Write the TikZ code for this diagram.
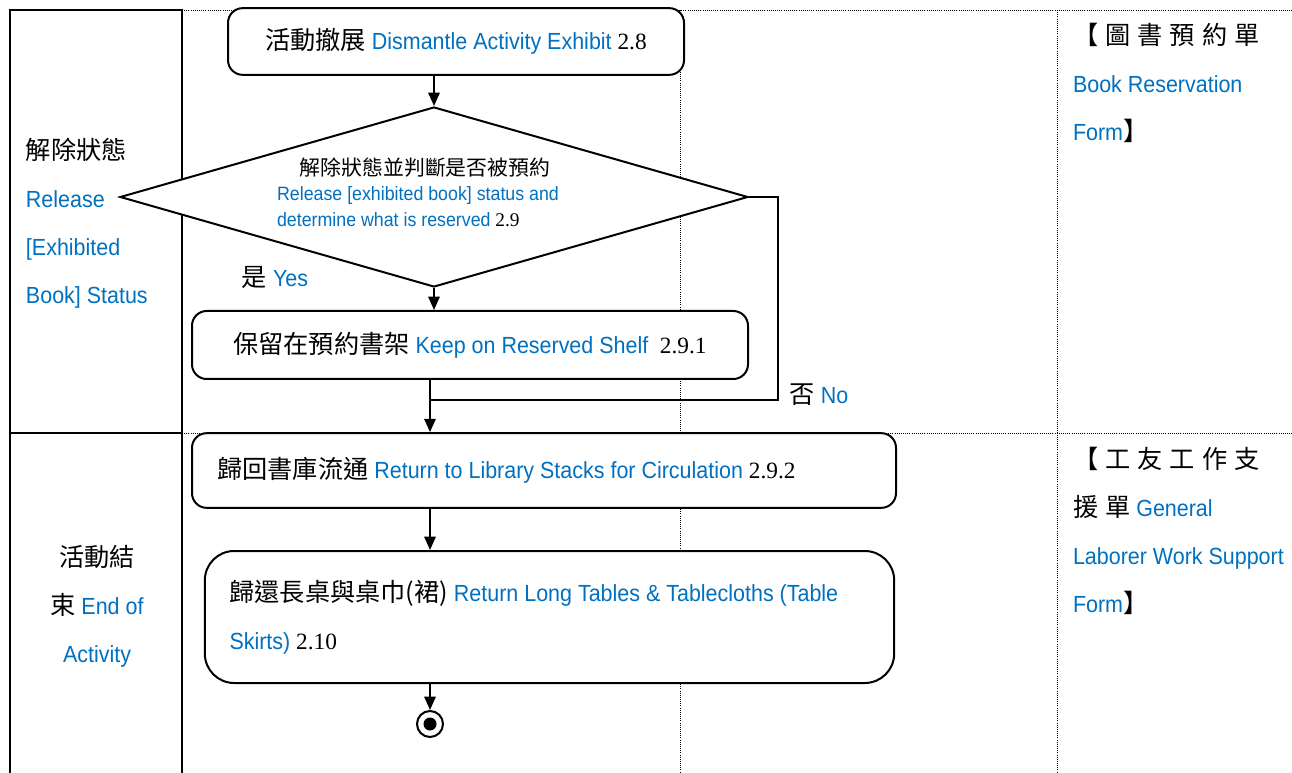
\documentclass[tikz,border=0pt]{standalone}
\usepackage{fontspec}
\setmainfont{Liberation Serif}
\newfontfamily\cjkfont[Scale=1.08]{Noto Sans CJK TC}
\newfontfamily\cjkwide[Scale=1.08, LetterSpace=28]{Noto Sans CJK TC}
\newfontfamily\enfont[FakeStretch=0.92]{Liberation Sans}
\usepackage{xcolor}
\usetikzlibrary{arrows.meta,shapes.geometric}
\definecolor{refblue}{RGB}{0,112,192}
\newcommand{\zh}[1]{{\cjkfont #1}}
\newcommand{\zhw}[1]{{\cjkwide #1}}
\newcommand{\en}[1]{{\enfont\color{refblue}#1}}

\begin{document}
\begin{tikzpicture}[x=0.75pt, y=-0.75pt, >={Triangle[length=10pt,width=8.5pt]},
    font=\fontsize{17.5}{36}\selectfont, line width=1.5pt]
    \tikzset{lane/.style={line width=1.6pt},
        sep/.style={line width=0.6pt, densely dotted},
        actbox/.style={draw, fill=white, rounded corners=11pt, inner xsep=19pt, inner ysep=0pt},
        decision/.style={diamond, draw, fill=white, inner sep=0pt},
        lanetext/.style={inner sep=0pt}}
    \useasboundingbox (0,0) rectangle (1292,773);
    % swimlanes
    \draw[lane] (10,773) -- (10,10) -- (182,10) -- (182,773);
    \draw[lane] (10,433) -- (182,433);
    \draw[sep] (182,10) -- (1292,10);
    \draw[sep] (182,433) -- (1292,433);
    \draw[sep] (680,10) -- (680,773);
    \draw[sep] (1057,10) -- (1057,773);
    % lane titles
    \node[lanetext, anchor=west, align=left] (releaselane) at (25,223.5)
        {\zh{解除狀態}\\ \en{Release}\\ \en{[Exhibited}\\ \en{Book] Status}};
    \node[lanetext, align=center] (endlane) at (97,606.5)
        {\zh{活動結}\\ \zh{束} \en{End of}\\ \en{Activity}};
    % forms
    \node[lanetext, anchor=west, align=left] (bookform) at (1072,83)
        {\zhw{【圖書預約單}\\ \en{Book Reservation}\\ \en{Form}\zh{】}};
    \node[lanetext, anchor=west, align=left] (workform) at (1072,531)
        {\zhw{【工友工作支}\\ \zhw{援單} \en{General}\\ \en{Laborer Work Support}\\ \en{Form}\zh{】}};
    % activities
    \node[actbox, minimum width=342pt, minimum height=50pt] (dismantle) at (456,41.5)
        {\zh{活動撤展} \en{Dismantle Activity Exhibit} 2.8};
    \node[decision, minimum width=471pt, minimum height=135pt] (check) at (434,197) {};
    \node[lanetext, font=\fontsize{14.5}{19}\selectfont, align=left] (checktext) at (418,192)
        {\hspace*{17pt}\zh{解除狀態並判斷是否被預約}\\ \en{Release [exhibited book] status and}\\ \en{determine what is reserved} 2.9};
    \node[actbox, minimum width=417pt, minimum height=51pt] (keep) at (470,345)
        {\zh{保留在預約書架} \en{Keep on Reserved Shelf}\ \ 2.9.1};
    \node[actbox, minimum width=528pt, minimum height=56pt, text width=490pt, align=flush left] (restack) at (544,470.5)
        {\zh{歸回書庫流通} \en{Return to Library Stacks for Circulation} 2.9.2};
    \node[actbox, rounded corners=22pt, inner xsep=18.5pt, minimum width=517pt, minimum height=99pt,
        text width=480pt, align=flush left] (tables) at (549.5,617)
        {\zh{歸還長桌與桌巾(裙)} \en{Return Long Tables \& Tablecloths (Table}\\ \en{Skirts)} 2.10};
    \node[circle, draw, inner sep=0pt, minimum size=19.5pt] (finish) at (430,724) {};
    \fill (finish.center) circle (6.5);
    % branch labels
    \node[lanetext] (yes) at (275,277) {\zh{是} \en{Yes}};
    \node[lanetext] (no) at (819,395) {\zh{否} \en{No}};
    % flow
    \coordinate (spine) at (430,0);
    \coordinate (nocorner) at (778,400);
    \draw[->] (dismantle.south -| check.north) -- (check.north);
    \draw[->] (check.south) -- (keep.north -| check.south);
    \draw (check.east) -| (nocorner) -- (nocorner -| spine);
    \draw[->] (keep.south -| spine) -- (restack.north -| spine);
    \draw[->] (restack.south -| spine) -- (tables.north -| spine);
    \draw[->] (tables.south -| spine) -- (finish);
\end{tikzpicture}
\end{document}
